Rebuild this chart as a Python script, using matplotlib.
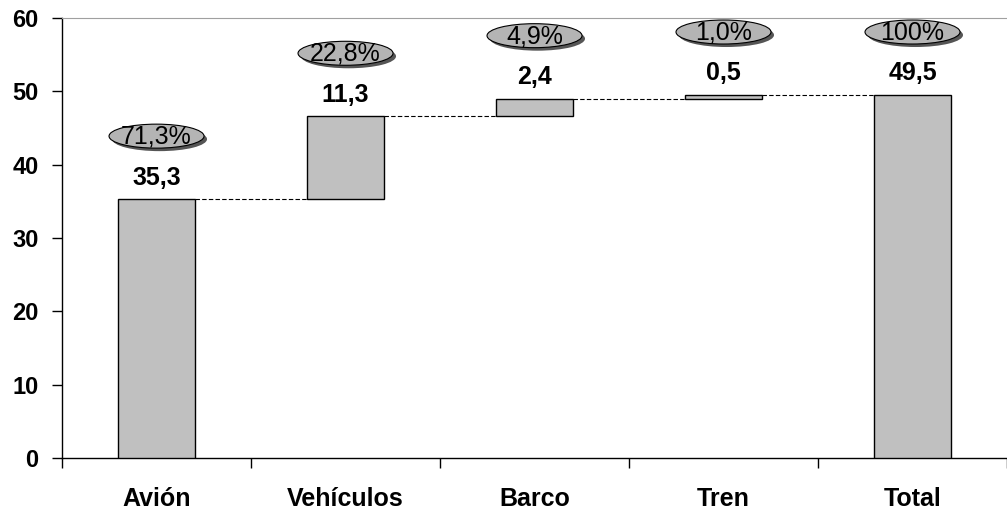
import numpy as np
import matplotlib.pyplot as plt
from matplotlib.patches import Ellipse
from matplotlib.transforms import ScaledTranslation

categories = ['Avión', 'Vehículos', 'Barco', 'Tren', 'Total']
values = [35.3, 11.3, 2.4, 0.5, 49.5]
value_labels = ['35,3', '11,3', '2,4', '0,5', '49,5']
pct_labels = ['71,3%', '22,8%', '4,9%', '1,0%', '100%']

plt.rcParams['font.family'] = ['Liberation Sans', 'DejaVu Sans']

# waterfall bottoms: steps stack up, the last bar (total) starts at 0
bottoms = list(np.concatenate([[0], np.cumsum(values[:-2])])) + [0]
tops = [b + v for b, v in zip(bottoms, values)]

fig = plt.figure(figsize=(10.07, 5.12), dpi=100)
ax = fig.add_axes([0.0616, 0.1055, 0.9384, 0.8593])

x = np.arange(len(categories))
width = 0.41
ax.bar(x, values, width, bottom=bottoms, color='#c0c0c0', edgecolor='black', linewidth=1, zorder=3)

# dashed connectors between consecutive bars
for i in range(len(categories) - 1):
    ax.plot([x[i] + width / 2, x[i + 1] - width / 2], [tops[i], tops[i]],
            color='black', linestyle=(0, (4, 2)), linewidth=0.8, zorder=2)

for i in range(len(categories)):
    ax.annotate(value_labels[i], (x[i], tops[i]), xytext=(0, 15.5), textcoords='offset points',
                ha='center', va='center', fontsize=18, fontweight='bold')
    # ellipse badge (pixel sized, anchored at bar top) with drop shadow
    tr = ScaledTranslation(x[i], tops[i], ax.transData)
    ax.add_patch(Ellipse((3, 60), 95, 24, transform=tr, fc='#555555', ec='none', zorder=4, clip_on=False))
    ax.add_patch(Ellipse((0, 63), 95, 24, transform=tr, fc='#b4b4b4', ec='black', lw=0.8, zorder=5, clip_on=False))
    ax.annotate(pct_labels[i], (x[i], tops[i]), xytext=(0, 45), textcoords='offset points',
                ha='center', va='center', fontsize=18, zorder=6)

ax.set_xlim(-0.5, 4.5)
ax.set_ylim(0, 60)
ax.set_yticks(np.arange(0, 61, 10))
ax.set_xticks(np.arange(-0.5, 4.6, 1))
ax.set_xticklabels([])
ax.set_xticks(x, minor=True)
ax.set_xticklabels(categories, minor=True, fontsize=18, fontweight='bold')
ax.tick_params(axis='x', which='minor', length=0, pad=21)
ax.tick_params(axis='x', which='major', direction='out', length=7, width=1)
ax.tick_params(axis='y', direction='out', length=7, width=1, pad=10, labelsize=17)
for lab in ax.get_yticklabels():
    lab.set_fontweight('bold')

ax.spines['right'].set_visible(False)
ax.spines['top'].set_color('#a0a0a0')
ax.spines['left'].set_linewidth(1)
ax.spines['bottom'].set_linewidth(1)

fig.savefig('out.png', dpi=100)
